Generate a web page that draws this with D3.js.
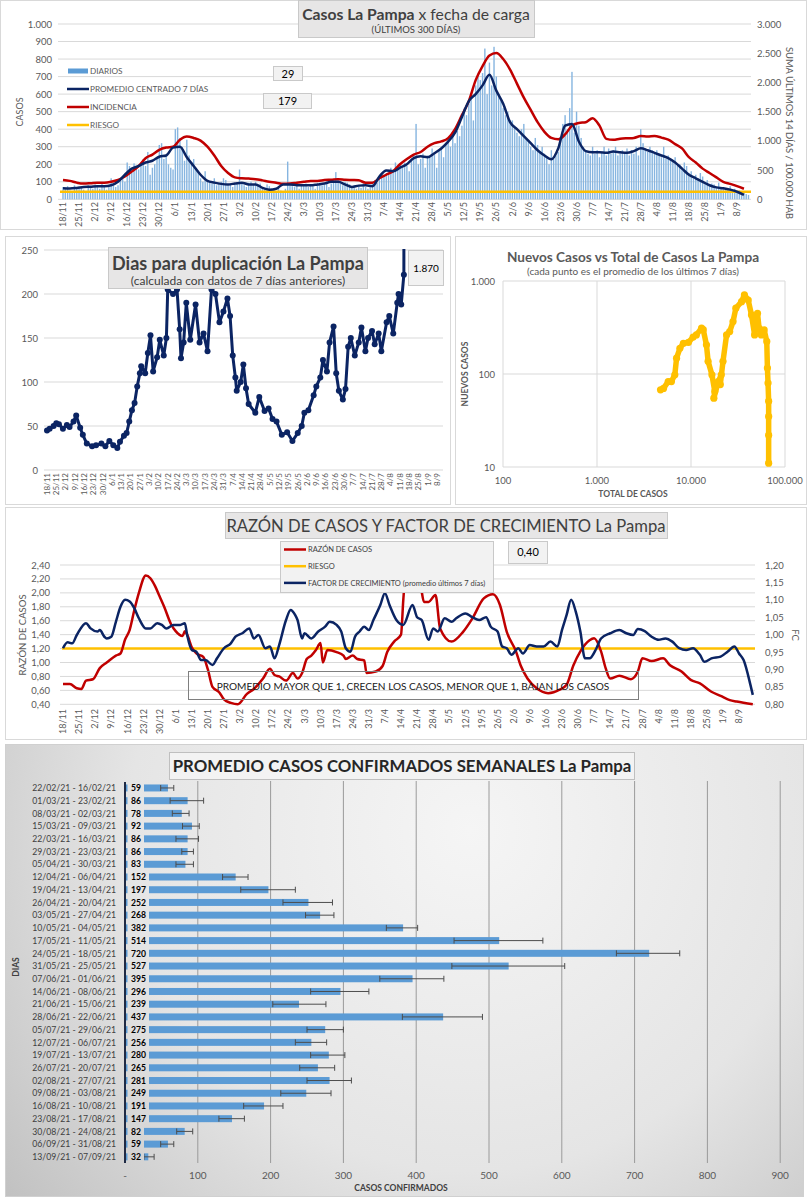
<!DOCTYPE html>
<html><head><meta charset="utf-8">
<script src="https://cdn.jsdelivr.net/npm/d3@7"></script>
<style>body{margin:0;background:#fff;} svg{display:block;font-family:Lato,'Open Sans',sans-serif;}</style>
</head><body><svg id="c" width="808" height="1200"></svg>
<script>
// ---------------- DATA ----------------
const weekLabels = ["18/11","25/11","2/12","9/12","16/12","23/12","30/12","6/1","13/1","20/1","27/1","3/2","10/2","17/2","24/2","3/3","10/3","17/3","24/3","31/3","7/4","14/4","21/4","28/4","5/5","12/5","19/5","26/5","2/6","9/6","16/6","23/6","30/6","7/7","14/7","21/7","28/7","4/8","11/8","18/8","25/8","1/9","8/9"];
// daily cases (day 0 = 18/11)
const dailyCases = [
70,60,75,50,40,80,65, 72,68,55,45,80,70,60, 85,70,60,90,75,55,80, 120,95,70,80,110,130,100,
210,190,150,205,180,170,200, 230,190,270,140,180,200,240, 310,320,230,250,200,180,170,
400,410,350,300,220,340,250, 200,230,180,150,120,100,160, 110,100,90,120,80,95,100,
120,110,80,90,70,85,95, 170,90,80,70,95,100,85, 100,80,90,70,60,85,75, 60,55,40,70,50,45,60,
215,80,75,70,90,60,85, 80,90,70,85,75,60,90, 95,80,85,100,70,90,110, 155,110,90,80,100,95,85,
70,80,60,75,65,90,70, 60,80,100,110,95,130,150, 140,150,160,180,170,210,190, 200,180,210,190,160,230,250,
430,200,230,260,180,250,240, 290,260,180,280,300,240,310, 350,300,380,320,390,360,420,
520,480,560,600,450,650,700, 680,720,860,600,780,650,870, 700,600,560,520,480,500,450,
450,420,380,360,400,430,350, 340,300,280,350,310,270,300, 260,240,200,280,230,250,270,
350,430,480,400,520,727,380, 500,420,350,300,280,260,250, 300,260,280,240,270,300,250,
290,260,280,300,250,270,280, 270,290,250,280,260,300,250, 400,320,290,270,300,280,260,
280,260,240,300,230,250,220, 220,240,190,200,180,210,190, 150,160,130,140,120,150,130,
100,110,80,90,85,70,95, 70,65,55,60,75,50,60, 45,50,35,40,30,25];
// 7-day centered average, one value every 3 days
const avg7 = [63,62,65,70,72,75,75,80,100,140,
175,190,210,220,243,250,295,300,240,190,
140,105,95,88,85,90,95,85,85,65,
55,60,85,85,80,80,80,85,90,100,
100,85,70,78,80,75,130,165,160,180,
200,235,245,240,263,290,329,380,470,560,
600,650,710,620,545,440,400,360,320,280,
250,228,290,420,430,330,275,268,268,265,
272,268,265,275,291,280,265,250,235,210,
175,140,120,100,80,68,63,55,43,25];
// incidence (14 days / 100.000 hab), one value every 3 days
const incidence = [330,315,285,270,276,285,285,300,330,390,
474,570,702,765,846,885,900,1020,1074,1050,
1005,900,750,570,450,375,360,354,345,324,
300,285,264,270,285,300,315,315,330,336,
345,336,330,324,285,285,360,420,480,600,
690,765,810,900,960,990,1047,1200,1440,1680,
2040,2280,2460,2502,2400,2220,1980,1740,1530,1320,
1155,1050,1026,1110,1260,1305,1320,1389,1260,1035,
1017,1035,1044,1050,1083,1074,1083,1056,1020,945,
870,720,630,525,450,375,300,264,225,180];
const lineStepDays = 3;
const riskIncidence = 130;
const topBoxValues = ["29","179"];

// doubling days
const dupDays = [0,2,5,7,9,12,15,17,20,22,25,27,30,34,37,41,44,47,50,53,55,58,60,62,64,66,68,70,71,74,76,78,80,83,85,88,90,91,95,98,100,101,103,105,108,112,115,118,121,124,127,130,133,136,138,140,142,143,146,148,150,152,157,160,164,167,170,173,177,181,185,189,192,194,197,201,203,206,208,211,213,216,218,220,223,225,227,229,232,235,237,240,242,245,247,250,252,256,258,261,264,265,267,269,270];
const dupValues = [45,47,50,53,52,47,51,49,55,62,48,40,30,27,28,30,27,33,28,25,32,39,42,55,68,76,95,110,118,110,133,153,112,128,148,130,150,205,200,205,160,127,145,190,148,188,145,155,135,205,200,168,180,195,175,130,105,90,100,120,93,75,65,83,67,70,58,55,40,43,33,42,50,65,68,85,95,105,125,112,145,163,110,90,80,92,140,150,130,145,162,135,150,158,143,155,135,168,175,155,190,200,188,222,1870];
const dupLastLabel = "1.870";

// new vs total (7-day avg)
const scatterTotal = [4740,5100,5720,6190,6730,7020,7620,8300,9400,10540,11400,12950,13500,14600,15200,16700,17900,17500,19500,21000,20500,21900,23900,25800,28000,30000,34500,37000,40600,44000,47500,49000,51000,53000,56000,60000,64000,65000,66000,67000,67000,67000,67000];
const scatterNew =   [67.6,70,83,83,98,148,189,214,219,250,263,311,300,206,137,98,65,55,83,98,77,137,263,286,366,510,600,708,625,432,263,366,450,310,263,298,224,116,80,51,35,22,11];

// razón de casos / factor de crecimiento
const razonDays = [0,3,6,8,10,13,16,19,23,25,27,29,31,33,36,38,40,42,44,47,49,52,53,54,56,58,61,63,65,68,70,73,76,80,83,87,90,92,94,97,100,102,104,106,108,110,112,113,115,119,122,123,126,128,131,132,136,139,141,144,147,148,150,152,154,156,157,159,162,164,169,174,178,183,187,190,193,197,199,202,206,211,216,219,222,225,229,231,234,236,238,242,247,250,252,256,261,264,269,273,277,282,286,290,293,300];
const razonValues = [0.69,0.69,0.63,0.62,0.74,0.76,0.92,1.00,1.10,1.13,1.33,1.47,1.75,2.00,2.25,2.21,2.10,1.95,1.80,1.55,1.45,1.38,1.45,1.40,1.22,1.13,1.08,0.90,0.65,0.57,0.47,0.42,0.40,0.55,0.62,0.77,0.91,0.82,0.80,0.74,0.85,0.77,0.85,1.05,1.10,1.18,1.28,1.00,1.18,1.15,1.10,1.05,1.10,1.05,1.03,0.85,0.87,0.95,1.15,1.30,1.40,1.90,2.60,2.30,2.60,2.02,1.87,1.87,1.97,1.49,1.30,1.44,1.63,1.92,1.98,1.83,1.44,1.16,0.96,0.77,0.63,0.56,0.61,0.68,0.96,1.16,1.32,1.35,1.16,0.92,0.77,0.81,0.76,0.87,1.06,1.02,1.06,0.96,0.87,0.75,0.70,0.58,0.52,0.46,0.44,0.40];
const fcDays = [0,2,4,6,10,12,15,16,18,19,21,23,25,27,29,31,33,36,38,41,43,45,48,51,53,54,56,58,60,62,65,67,70,73,75,78,81,83,85,88,90,92,94,97,99,101,102,104,105,108,111,114,116,119,121,123,125,127,129,131,133,135,138,140,142,145,148,152,154,156,159,161,163,166,169,171,175,178,181,184,186,189,191,193,195,198,200,203,206,209,212,215,217,219,221,223,225,227,229,232,234,238,242,245,248,250,253,256,259,262,265,268,271,274,277,279,282,286,289,292,294,296,299,300];
const fcValues = [0.961,0.978,0.975,0.999,1.033,1.018,1.009,1.013,0.994,0.989,0.994,1.037,1.08,1.10,1.095,1.076,1.047,1.018,1.018,1.033,1.028,1.018,1.028,1.028,1.033,0.999,0.956,0.951,0.927,0.927,0.913,0.932,0.961,0.975,0.994,1.004,1.018,0.989,0.999,0.961,0.966,0.932,0.970,1.042,1.071,1.056,1.042,0.989,1.004,0.989,1.009,1.023,1.037,1.028,1.009,0.961,0.951,0.994,1.009,1.023,1.013,1.042,1.085,1.119,1.085,1.042,1.028,1.085,1.05,1.042,0.985,1.018,1.009,1.047,1.037,1.047,1.061,1.05,1.042,1.05,1.023,1.009,0.966,0.961,0.942,0.961,0.946,0.970,0.966,0.966,0.980,0.966,1.013,1.056,1.100,1.066,1.009,0.932,0.932,0.961,0.989,1.004,1.013,1.004,0.999,1.016,1.010,0.994,0.985,0.989,0.980,0.961,0.956,0.961,0.942,0.922,0.932,0.937,0.951,0.966,0.946,0.927,0.855,0.827];
const razonRisk = 1.20;
const razonBoxValue = "0,40";
const razonNote = "PROMEDIO MAYOR QUE 1, CRECEN LOS CASOS, MENOR QUE 1, BAJAN LOS CASOS";

// weekly averages
const weekRanges = ["22/02/21 - 16/02/21","01/03/21 - 23/02/21","08/03/21 - 02/03/21","15/03/21 - 09/03/21","22/03/21 - 16/03/21","29/03/21 - 23/03/21","05/04/21 - 30/03/21","12/04/21 - 06/04/21","19/04/21 - 13/04/21","26/04/21 - 20/04/21","03/05/21 - 27/04/21","10/05/21 - 04/05/21","17/05/21 - 11/05/21","24/05/21 - 18/05/21","31/05/21 - 25/05/21","07/06/21 - 01/06/21","14/06/21 - 08/06/21","21/06/21 - 15/06/21","28/06/21 - 22/06/21","05/07/21 - 29/06/21","12/07/21 - 06/07/21","19/07/21 - 13/07/21","26/07/21 - 20/07/21","02/08/21 - 27/07/21","09/08/21 - 03/08/21","16/08/21 - 10/08/21","23/08/21 - 17/08/21","30/08/21 - 24/08/21","06/09/21 - 31/08/21","13/09/21 - 07/09/21"];
const weeklyAvg = [59,86,78,92,86,86,83,152,197,252,268,382,514,720,527,395,296,239,437,275,256,280,265,281,249,191,147,82,59,32];
const weeklyLow = [49,62,65,79,70,78,70,134,159,217,248,359,452,675,449,350,255,203,381,250,234,255,240,250,214,163,129,71,49,26];
const weeklyHigh = [67,108,88,102,101,94,94,169,234,285,287,402,574,762,604,438,335,276,491,300,277,302,288,311,283,217,164,93,67,40];
const weeklyTicks = [0,100,200,300,400,500,600,700,800,900];

// ---------------- DRAW ----------------
const svg = d3.select("#c");
const loc = d3.formatLocale({decimal:",", thousands:".", grouping:[3], currency:["",""]});
const fInt = loc.format(",d"), f2 = loc.format(".2f");
const GRID="#d9d9d9", TXT="#595959", NAVY="#0b2463", RED="#c00000", YEL="#ffc000", BLUE="#5b9bd5";
const defs = svg.append("defs");

function rect(g,x,y,w,h,fill,stroke,sw){return g.append("rect").attr("x",x).attr("y",y).attr("width",w).attr("height",h).attr("fill",fill).attr("stroke",stroke||"none").attr("stroke-width",sw||1);}
function text(g,x,y,t,size,opts={}){const e=g.append("text").attr("x",x).attr("y",y).attr("font-size",size).attr("fill",opts.fill||TXT).attr("text-anchor",opts.anchor||"start").attr("font-weight",opts.weight||"normal").text(t);if(opts.rot!=null)e.attr("transform",`rotate(${opts.rot},${x},${y})`);return e;}
function rotLabels(g,labels,xf,y,size){g.selectAll(null).data(labels).join("text").attr("transform",(d,i)=>`translate(${xf(i)},${y}) rotate(-90)`).attr("text-anchor","end").attr("dy","0.35em").attr("font-size",size).attr("fill",TXT).text(d=>d);}
function clip(id,x,y,w,h){defs.append("clipPath").attr("id",id).append("rect").attr("x",x).attr("y",y).attr("width",w).attr("height",h);return `url(#${id})`;}

// ===== Panel 1 =====
{
const g=svg.append("g");
rect(g,0.5,0.5,806,229,"#fff","#d9d9d9");
const x=d3.scaleLinear().domain([0,300]).range([63,750.8]);
const y=d3.scaleLinear().domain([0,1000]).range([199.3,24]);
const yr=d3.scaleLinear().domain([0,3000]).range([199.3,24]);
y.ticks(10).forEach(t=>{g.append("line").attr("x1",58).attr("x2",751).attr("y1",y(t)).attr("y2",y(t)).attr("stroke",GRID);
 text(g,52,y(t)+3.5,fInt(t),9.5,{anchor:"end"});});
yr.ticks(6).forEach(t=>text(g,757,yr(t)+3.5,fInt(t),9.5));
g.selectAll(null).data(dailyCases).join("rect").attr("x",(d,i)=>x(i)-0.7).attr("width",1.4).attr("y",d=>y(d)).attr("height",d=>y(0)-y(d)).attr("fill","#86b5e0");
g.append("line").attr("x1",60).attr("x2",751).attr("y1",yr(riskIncidence)).attr("y2",yr(riskIncidence)).attr("stroke",YEL).attr("stroke-width",2.5);
const la=d3.line().x((d,i)=>x(i*lineStepDays)).y(d=>y(d)).curve(d3.curveMonotoneX);
const lr=d3.line().x((d,i)=>x(i*lineStepDays)).y(d=>yr(d)).curve(d3.curveMonotoneX);
g.append("path").attr("d",lr(incidence)).attr("fill","none").attr("stroke",RED).attr("stroke-width",2.5);
g.append("path").attr("d",la(avg7)).attr("fill","none").attr("stroke",NAVY).attr("stroke-width",2.5);
rotLabels(g,weekLabels,i=>x(i*7),202,9);
// legend
const leg=[["DIARIOS","bar"],["PROMEDIO CENTRADO 7 DÍAS",NAVY],["INCIDENCIA",RED],["RIESGO",YEL]];
leg.forEach((d,i)=>{const yy=71+i*18;
 if(d[1]==="bar") rect(g,68,yy-2.5,20,5,"#5b9bd5"); else g.append("line").attr("x1",67).attr("x2",89).attr("y1",yy).attr("y2",yy).attr("stroke",d[1]).attr("stroke-width",2.5);
 text(g,90,yy+3,d[0],8.2,{fill:"#595959"});});
// title
rect(g,298.5,0.5,236,37,"#e7e6e6","#c9c9c9");
const t=text(g,416,20,"",15.7,{anchor:"middle",fill:"#404040"});
t.append("tspan").attr("font-weight","bold").text("Casos La Pampa");t.append("tspan").text(" x fecha de carga");
text(g,416,33,"(ÚLTIMOS 300 DÍAS)",9.5,{anchor:"middle",fill:"#404040"});
rect(g,273.5,66.5,29,14,"#f2f2f2","#c9c9c9");text(g,288,77.5,topBoxValues[0],11,{anchor:"middle",fill:"#000"});
rect(g,263.5,93.5,48,15,"#f2f2f2","#c9c9c9");text(g,287.5,105,topBoxValues[1],11,{anchor:"middle",fill:"#000"});
text(g,23,112,"CASOS",9,{anchor:"middle",rot:-90});
text(g,786,133,"SUMA ÚLTIMOS 14 DÍAS / 100.000 HAB",9.4,{anchor:"middle",rot:90});
}

// ===== Panel 2 =====
{
const g=svg.append("g");
rect(g,5.5,236.5,445,268,"#fff","#d9d9d9");
const x=d3.scaleLinear().domain([0,300]).range([47,445]);
const y=d3.scaleLinear().domain([0,250]).range([470,250]);
y.ticks(5).forEach(t=>{g.append("line").attr("x1",44).attr("x2",443).attr("y1",y(t)).attr("y2",y(t)).attr("stroke",GRID);
 text(g,38,y(t)+3.5,fInt(t),9.5,{anchor:"end"});});
const cp=clip("cp2",40,249,405,225);
const pts=dupDays.map((d,i)=>[x(d),y(dupValues[i])]);
const gg=g.append("g").attr("clip-path",cp);
gg.append("path").attr("d",d3.line()(pts)).attr("fill","none").attr("stroke",NAVY).attr("stroke-width",3).attr("stroke-linejoin","round");
gg.selectAll(null).data(pts).join("circle").attr("cx",d=>d[0]).attr("cy",d=>d[1]).attr("r",3).attr("fill",NAVY);
rotLabels(g,weekLabels,i=>x(i*7),473,8);
rect(g,108.5,247.5,259,41,"#e7e6e6","#c9c9c9");
text(g,238,270,"Dias para duplicación La Pampa",18,{anchor:"middle",weight:"bold",fill:"#404040"});
text(g,238,284.5,"(calculada con datos de 7 días anteriores)",12,{anchor:"middle",fill:"#404040"});
rect(g,408.5,250.5,35,35,"#f2f2f2","#c9c9c9");
text(g,426,272,dupLastLabel,10,{anchor:"middle",fill:"#000"});
}

// ===== Panel 3 =====
{
const g=svg.append("g");
rect(g,455.5,236.5,351,268,"#fff","#d9d9d9");
const x=d3.scaleLog().domain([100,100000]).range([503,785]);
const y=d3.scaleLog().domain([10,1000]).range([467,281]);
[100,1000,10000,100000].forEach(t=>{g.append("line").attr("x1",x(t)).attr("x2",x(t)).attr("y1",281).attr("y2",467).attr("stroke",GRID);
 text(g,x(t),484,fInt(t),9.5,{anchor:"middle"});});
[10,100,1000].forEach(t=>{g.append("line").attr("x1",503).attr("x2",785).attr("y1",y(t)).attr("y2",y(t)).attr("stroke",GRID);
 text(g,495,y(t)+3.5,fInt(t),9.5,{anchor:"end"});});
const pts=scatterTotal.map((d,i)=>[x(d),y(scatterNew[i])]);
g.append("path").attr("d",d3.line()(pts)).attr("fill","none").attr("stroke",YEL).attr("stroke-width",5.5).attr("stroke-linejoin","round");
g.selectAll(null).data(pts).join("circle").attr("cx",d=>d[0]).attr("cy",d=>d[1]).attr("r",3.6).attr("fill",YEL);
text(g,633,262,"Nuevos Casos vs Total de Casos La Pampa",13.6,{anchor:"middle",weight:"bold",fill:"#595959"});
text(g,633,275,"(cada punto es el promedio de los últimos 7 días)",10,{anchor:"middle"});
text(g,468,374,"NUEVOS CASOS",8.5,{anchor:"middle",weight:"bold",rot:-90});
text(g,633,497,"TOTAL DE CASOS",8.5,{anchor:"middle",weight:"bold"});
}

// ===== Panel 4 =====
{
const g=svg.append("g");
rect(g,5.5,507.5,801,232,"#fff","#d9d9d9");
const x=d3.scaleLinear().domain([0,300]).range([63,752.8]);
const y=d3.scaleLinear().domain([0.4,2.4]).range([704.3,565]);
const yr=d3.scaleLinear().domain([0.8,1.2]).range([704.3,565]);
d3.range(0,11).map(i=>0.4+i*0.2).forEach(t=>{g.append("line").attr("x1",60).attr("x2",755).attr("y1",y(t)).attr("y2",y(t)).attr("stroke",GRID);
 text(g,50,y(t)+3.5,f2(t),9.5,{anchor:"end"});});
d3.range(0,9).map(i=>0.8+i*0.05).forEach(t=>text(g,765,yr(t)+3.5,f2(t),9.5));
const cp=clip("cp4",55,565,705,141);
const gg=g.append("g").attr("clip-path",cp);
gg.append("line").attr("x1",62).attr("x2",755).attr("y1",y(razonRisk)).attr("y2",y(razonRisk)).attr("stroke",YEL).attr("stroke-width",2.5);
gg.append("path").attr("d",d3.line().curve(d3.curveMonotoneX)(razonDays.map((d,i)=>[x(d),y(razonValues[i])]))).attr("fill","none").attr("stroke",RED).attr("stroke-width",2.5);
gg.append("path").attr("d",d3.line().curve(d3.curveMonotoneX)(fcDays.map((d,i)=>[x(d),yr(fcValues[i])]))).attr("fill","none").attr("stroke",NAVY).attr("stroke-width",2.5);
rotLabels(g,weekLabels,i=>x(i*7),709,9);
rect(g,225.5,512.5,442,26,"#e7e6e6","#c9c9c9");
text(g,446,532,"RAZÓN DE CASOS Y FACTOR DE CRECIMIENTO La Pampa",16.6,{anchor:"middle",fill:"#404040"});
rect(g,280.5,541.5,213,51,"#f2f2f2","#c9c9c9");
[["RAZÓN DE CASOS",RED],["RIESGO",YEL],["FACTOR DE CRECIMIENTO (promedio últimos 7 días)",NAVY]].forEach((d,i)=>{const yy=549.5+i*16.7;
 g.append("line").attr("x1",284).attr("x2",306).attr("y1",yy).attr("y2",yy).attr("stroke",d[1]).attr("stroke-width",2.5);
 text(g,308,yy+2.8,d[0],7.5,{fill:"#404040"});});
rect(g,508.5,541.5,39,22,"#f2f2f2","#c9c9c9");
text(g,528,556,razonBoxValue,11,{anchor:"middle",fill:"#000"});
rect(g,188.5,671.5,450,28,"none","#7f7f7f");
text(g,413,690,razonNote,10.1,{anchor:"middle",fill:"#1a1a1a"});
text(g,26,635,"RAZÓN DE CASOS",9.5,{anchor:"middle",rot:-90});
text(g,792,635,"FC",9.5,{anchor:"middle",rot:90});
}

// ===== Panel 5 =====
{
const g=svg.append("g");
const gr=defs.append("radialGradient").attr("id","g5").attr("gradientUnits","userSpaceOnUse").attr("cx",470).attr("cy",830).attr("r",620);
gr.append("stop").attr("offset",0).attr("stop-color","#f5f5f5");
gr.append("stop").attr("offset",0.55).attr("stop-color","#e5e5e5");
gr.append("stop").attr("offset",1).attr("stop-color","#bdbdbd");
rect(g,5.5,744.5,798,452,"url(#g5)","#d0d0d0");
const x=d3.scaleLinear().domain([0,900]).range([125,780.2]);
const y=d3.scaleBand().domain(weekRanges).range([781.6,1163.2]).paddingInner(0.45).paddingOuter(0.225);
weeklyTicks.forEach(t=>{if(t>0)g.append("line").attr("x1",x(t)).attr("x2",x(t)).attr("y1",781).attr("y2",1163).attr("stroke","#9a9a9a");
 text(g,x(t),1179,t===0?"-":fInt(t),10,{anchor:"middle"});});
g.selectAll(null).data(weeklyAvg).join("rect").attr("x",x(0)).attr("y",(d,i)=>y(weekRanges[i])).attr("height",y.bandwidth()).attr("width",d=>x(d)-x(0)).attr("fill",BLUE);
weeklyAvg.forEach((v,i)=>{const cy=y(weekRanges[i])+y.bandwidth()/2;const lo=x(weeklyLow[i]),hi=x(weeklyHigh[i]);
 g.append("line").attr("x1",lo).attr("x2",hi).attr("y1",cy).attr("y2",cy).attr("stroke","#4d4d4d").attr("stroke-width",1);
 [lo,hi].forEach(xx=>g.append("line").attr("x1",xx).attr("x2",xx).attr("y1",cy-3).attr("y2",cy+3).attr("stroke","#4d4d4d"));
 const s=String(v);const w=6.5+5*s.length;
 rect(g,127.5,cy-6,w,12,"url(#g5)");
 text(g,131,cy+3.2,s,8.6,{weight:"bold",fill:"#000"});
 text(g,116,cy+3.2,weekRanges[i],8.7,{anchor:"end",fill:"#404040"});});
g.append("line").attr("x1",125).attr("x2",125).attr("y1",782).attr("y2",1163).attr("stroke","#1f2a44").attr("stroke-width",2);
rect(g,169.5,752.5,465,27,"#f3f3f3","#bfbfbf");
text(g,402,772,"PROMEDIO CASOS CONFIRMADOS SEMANALES La Pampa",16.8,{anchor:"middle",weight:"bold",fill:"#262626"});
text(g,401,1191,"CASOS CONFIRMADOS",8.5,{anchor:"middle",weight:"bold",fill:"#404040"});
text(g,19,967,"DIAS",8.5,{anchor:"middle",weight:"bold",fill:"#404040",rot:-90});
}
</script></body></html>
